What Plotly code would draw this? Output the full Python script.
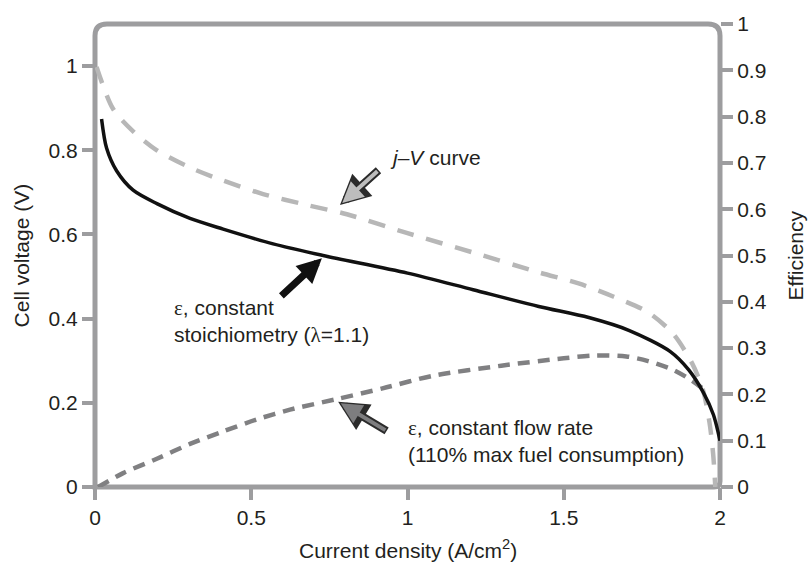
import plotly.graph_objects as go

# j-V curve (left axis, cell voltage)
jv_j = [0.005, 0.058, 0.122, 0.198, 0.304, 0.41, 0.538, 0.678, 0.806, 1.0, 1.21, 1.42, 1.55, 1.66, 1.77, 1.85, 1.91, 1.945, 1.966, 1.978, 1.985]
jv_v = [0.998, 0.898, 0.845, 0.80, 0.759, 0.728, 0.696, 0.670, 0.648, 0.603, 0.557, 0.510, 0.483, 0.452, 0.415, 0.364, 0.295, 0.232, 0.155, 0.079, 0.0]

# efficiency, constant stoichiometry (right axis)
st_j = [0.021, 0.037, 0.069, 0.122, 0.198, 0.304, 0.41, 0.57, 0.73, 1.0, 1.21, 1.42, 1.58, 1.71, 1.84, 1.90, 1.946, 1.979, 2.0]
st_e = [0.795, 0.732, 0.683, 0.641, 0.612, 0.58, 0.557, 0.525, 0.50, 0.462, 0.426, 0.39, 0.366, 0.338, 0.293, 0.253, 0.205, 0.156, 0.10]

# efficiency, constant flow rate (right axis)
fl_j = [0.01, 0.09, 0.198, 0.304, 0.41, 0.518, 0.624, 0.774, 0.92, 1.08, 1.30, 1.50, 1.60, 1.70, 1.77, 1.85, 1.91, 1.95]
fl_e = [0.0, 0.03, 0.061, 0.093, 0.12, 0.146, 0.167, 0.19, 0.213, 0.24, 0.262, 0.278, 0.284, 0.282, 0.272, 0.253, 0.23, 0.21]

x_ticks = [0, 0.5, 1, 1.5, 2]
x_labels = ["0", "0.5", "1", "1.5", "2"]
yl_ticks = [0, 0.2, 0.4, 0.6, 0.8, 1]
yl_labels = ["0", "0.2", "0.4", "0.6", "0.8", "1"]
yr_ticks = [0, 0.1, 0.2, 0.3, 0.4, 0.5, 0.6, 0.7, 0.8, 0.9, 1]
yr_labels = ["0", "0.1", "0.2", "0.3", "0.4", "0.5", "0.6", "0.7", "0.8", "0.9", "1"]

FRAME = "#9d9d9f"
TXT = "#231f20"
FONT = "Liberation Sans, Arial, sans-serif"
FS = 21
SERIF = "<span style=\"font-family:'Liberation Serif', serif\">%s</span>"

fig = go.Figure()
fig.add_trace(go.Scatter(x=jv_j, y=jv_v, mode="lines", yaxis="y",
                         line=dict(color="#b7b7b7", width=4.5, dash="17px,13px", shape="spline", smoothing=0.8),
                         hoverinfo="skip"))
fig.add_trace(go.Scatter(x=fl_j, y=fl_e, mode="lines", yaxis="y2",
                         line=dict(color="#808082", width=4.5, dash="12px,8px", shape="spline", smoothing=0.8),
                         hoverinfo="skip"))
fig.add_trace(go.Scatter(x=st_j, y=st_e, mode="lines", yaxis="y2",
                         line=dict(color="#111111", width=3.5, shape="spline", smoothing=0.8),
                         hoverinfo="skip"))

rx, ry = 12 / 625, 12 / 474
rb_x, rb_y = 6 / 625, 6 / 474
fig.add_shape(type="path", xref="paper", yref="paper",
              path=f"M0,0 L0,{1-ry} Q0,1 {rx},1 L{1-rx},1 Q1,1 1,{1-ry} L1,{rb_y} Q1,0 {1-rb_x},0 Z",
              line=dict(color=FRAME, width=5), layer="below")

axis_common = dict(ticks="outside", ticklen=12, tickwidth=4, tickcolor=FRAME,
                   showgrid=False, zeroline=False, showline=False,
                   tickfont=dict(family=FONT, size=FS, color=TXT))

fig.update_layout(
    width=811, height=565,
    margin=dict(l=95, r=91, t=13, b=78),
    paper_bgcolor="white", plot_bgcolor="white",
    showlegend=False,
    font=dict(family=FONT, size=FS, color=TXT),
    xaxis=dict(range=[0, 2], tickvals=x_ticks, ticktext=x_labels, **axis_common),
    yaxis=dict(range=[0, 1.1], tickvals=yl_ticks, ticktext=yl_labels, **axis_common),
    yaxis2=dict(range=[0, 1], tickvals=yr_ticks, ticktext=yr_labels, overlaying="y", side="right", **axis_common),
)

ann = []
# axis titles
ann.append(dict(text="Current density (A/cm<sup>2</sup>)", xref="paper", yref="paper", x=0.5, y=-0.133,
                showarrow=False, xanchor="center", yanchor="middle", font=dict(size=FS)))
ann.append(dict(text="Cell voltage (V)", xref="paper", yref="paper", x=-0.117, y=0.5, textangle=-90,
                showarrow=False, xanchor="center", yanchor="middle", font=dict(size=FS)))
ann.append(dict(text="Efficiency", xref="paper", yref="paper", x=1.12, y=0.5, textangle=-90,
                showarrow=False, xanchor="center", yanchor="middle", font=dict(size=FS)))

# labels
ann.append(dict(text="<i>j</i>–<i>V</i> curve", xref="x", yref="y", x=0.938, y=0.782,
                showarrow=False, xanchor="left", yanchor="middle", font=dict(size=FS)))
ann.append(dict(text=(SERIF % "ε") + ", constant<br>stoichiometry (" + (SERIF % "λ") + "=1.1)",
                xref="x", yref="y", x=0.246, y=0.393, align="left",
                showarrow=False, xanchor="left", yanchor="middle", font=dict(size=FS)))
ann.append(dict(text=(SERIF % "ε") + ", constant flow rate<br>(110% max fuel consumption)",
                xref="x", yref="y", x=0.995, y=0.110, align="left",
                showarrow=False, xanchor="left", yanchor="middle", font=dict(size=FS)))

def outlined_arrow(x, y, yref, ax, ay, fill):
    ann.append(dict(text="", x=x, y=y, xref="x", yref=yref, ax=ax, ay=ay, showarrow=True,
                    arrowhead=2, arrowsize=0.75, arrowwidth=8, arrowcolor="#2b2b2b"))
    ann.append(dict(text="", x=x, y=y, xref="x", yref=yref, ax=ax, ay=ay, showarrow=True,
                    arrowhead=2, arrowsize=1.05, arrowwidth=4, arrowcolor=fill,
                    standoff=3, startstandoff=1.5))

outlined_arrow(0.784, 0.67, "y", 40, -36, "#bdbdbd")
outlined_arrow(0.778, 0.184, "y2", 50, 30, "#7d7d7f")
ann.append(dict(text="", x=0.726, y=0.494, xref="x", yref="y2", ax=-42, ay=39, showarrow=True,
                arrowhead=2, arrowsize=0.7, arrowwidth=7, arrowcolor="#111111"))

fig.update_layout(annotations=ann)
fig.write_html("out.html")
